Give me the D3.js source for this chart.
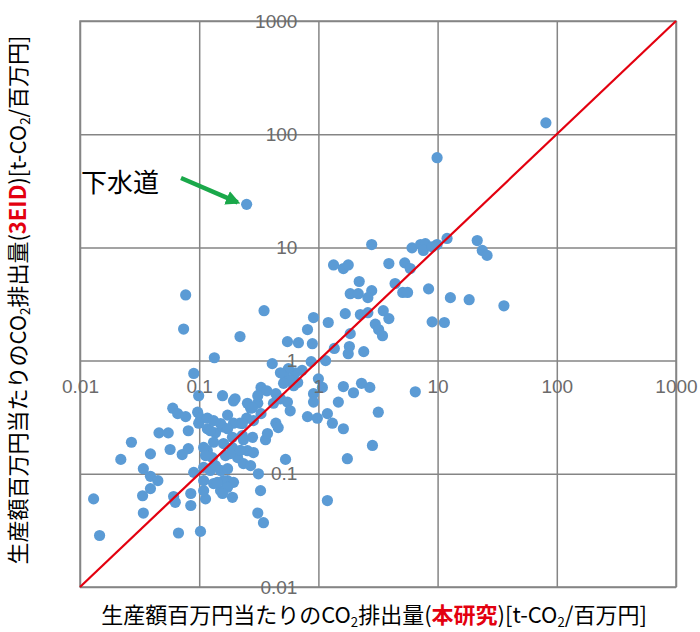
<!DOCTYPE html>
<html>
<head>
<meta charset="utf-8">
<script src="https://cdn.jsdelivr.net/npm/d3@7"></script>
<style>
  body { margin: 0; background: #fff; }
  .tick text { font-family: "Liberation Sans", Arial, sans-serif; fill: #6b6b6b; }
  .title { font-family: "Noto Sans CJK JP", sans-serif; fill: #000; }
</style>
</head>
<body>
<div id="chart"></div>
<script>
/***** Data : CO2 emission per million yen, this study (x) vs 3EID (y) *****/
var thisStudy = [
  81, 9.9, 0.25,
  2.8, 6.1, 7.2, 7.9, 7.6, 9.0, 9.9, 12, 21.5, 23.7, 26, 1.34, 1.62, 1.78, 3.9, 5.3, 5.9,
  2.2, 4.4, 5.1, 5.6, 8.4, 1.85, 2.16, 2.8, 2.6, 12.8, 18.4, 36, 0.077,
  0.074, 0.35, 0.91, 1.21, 1.68, 2.25, 2.6, 3.5, 3.9, 3.0, 3.2, 3.45, 9.0, 11.4, 0.81, 0.22,
  0.55, 0.68, 0.89, 1.85, 1.82, 1.78, 2.4, 1.36, 0.134, 0.41, 0.87, 1.15,
  0.09, 0.73, 0.64, 0.56, 0.53, 0.58, 0.51, 0.67, 0.48, 0.62, 1.0, 1.08, 1.62, 1.97, 2.3, 2.7,
  0.91, 0.91, 1.47, 6.5, 0.33, 0.37, 0.44, 0.48, 0.55, 0.58, 0.31, 0.27, 0.33, 0.25, 0.285,
  0.31, 0.2, 0.099, 0.157, 0.194, 0.06, 0.066, 0.077, 0.097, 0.103, 0.099, 0.117,
  0.046, 0.055, 0.081, 0.027, 0.039, 0.057, 0.072, 0.081, 0.022, 0.117, 0.117, 0.137, 0.157,
  0.173, 0.194, 0.22, 0.254, 0.28, 0.129, 0.132, 0.166, 0.19, 0.21, 0.235, 0.254, 0.28, 0.285,
  0.235, 0.27, 0.36, 0.374, 0.44, 0.46, 0.42, 0.81, 0.98, 1.19, 1.31, 1.62, 1.75, 2.84, 3.18,
  0.53, 0.314, 0.327, 0.034, 0.039, 0.045, 0.039, 0.0335, 0.013, 0.061, 0.063, 0.085, 0.085,
  0.113, 0.151, 0.19, 0.173, 0.194, 0.034, 0.31, 0.346, 0.0146, 0.067, 0.1025, 1.19,
  0.09, 0.109, 0.124, 0.137, 0.151, 0.173, 0.109, 0.109, 0.132, 0.16, 0.173, 0.157,
  0.124, 0.132, 0.151, 0.173, 0.23, 0.19, 0.23, 0.16, 0.183, 0.222, 0.109, 0.113, 0.142
];
var eid3 = [
  126, 62, 24,
  10.6, 9.9, 10.6, 10.8, 9.4, 10.1, 10.6, 12, 11.5, 9.4, 8.5, 7.0, 6.5, 7.0, 7.2, 7.3, 6.5,
  5.0, 4.8, 4.0, 4.0, 4.3, 3.9, 3.9, 4.15, 3.6, 3.6, 3.45, 3.05, 3.8,
  1.9, 2.76, 2.4, 2.17, 2.6, 2.55, 2.65, 2.76, 2.35, 2.1, 1.88, 1.66, 2.2, 2.17, 1.88, 1.63,
  1.47, 1.44, 1.41, 1.73, 1.33, 1.15, 1.2, 1.28, 1.06, 0.94, 0.98, 1.0,
  0.77, 0.82, 0.78, 0.85, 0.71, 0.67, 0.63, 0.64, 0.78, 0.60, 0.69, 0.58, 0.59, 0.52, 0.63, 0.58,
  0.51, 0.43, 0.43, 0.53, 0.58, 0.54, 0.51, 0.46, 0.43, 0.36, 0.42, 0.38, 0.34, 0.31, 0.295,
  0.49, 0.46, 0.49, 0.49, 0.44, 0.38, 0.34, 0.32, 0.35, 0.31, 0.28, 0.31,
  0.23, 0.23, 0.24, 0.19, 0.15, 0.164, 0.148, 0.167, 0.134, 0.25, 0.16, 0.23, 0.26,
  0.33, 0.28, 0.28, 0.42, 0.385, 0.139, 0.19, 0.145, 0.17, 0.139, 0.2, 0.16, 0.21, 0.154,
  0.123, 0.118, 0.2, 0.227, 0.28, 0.256, 0.42, 0.32, 0.31, 0.34, 0.28, 0.25, 0.136, 0.178, 0.35,
  0.134, 0.1, 0.071, 0.111, 0.095, 0.087, 0.074, 0.064, 0.06, 0.063, 0.056, 0.067, 0.0525,
  0.06, 0.071, 0.062, 0.087, 0.084, 0.045, 0.045, 0.037, 0.0285, 0.03, 0.031, 0.058,
  0.103, 0.114, 0.107, 0.118, 0.107, 0.111, 0.087, 0.071, 0.082, 0.087, 0.076, 0.067,
  0.24, 0.295, 0.278, 0.25, 0.278, 0.21, 0.218, 0.185, 0.151, 0.161, 0.171, 0.145, 0.084
];
var tickValues = [0.01, 0.1, 1, 10, 100, 1000];
var tickLabels = ["0.01", "0.1", "1", "10", "100", "1000"];
var annotation = { label: "下水道", x: 0.25, y: 24 };

var width = 700, height = 632;
var margin = { left: 80, right: 24, top: 21, bottom: 45 };

var svg = d3.select("#chart").append("svg")
    .attr("width", width)
    .attr("height", height);

var x = d3.scaleLog().domain([0.01, 1000]).range([margin.left, width - margin.right]);
var y = d3.scaleLog().domain([0.01, 1000]).range([height - margin.bottom, margin.top]);

/***** Grid lines *****/
svg.append("g")
    .attr("class", "grid")
    .attr("transform", "translate(0," + y(0.01) + ")")
    .call(d3.axisBottom(x).tickValues(tickValues).tickSize(-(y(0.01) - y(1000))).tickFormat(""));

svg.append("g")
    .attr("class", "grid")
    .attr("transform", "translate(" + x(0.01) + ",0)")
    .call(d3.axisLeft(y).tickValues(tickValues).tickSize(-(x(1000) - x(0.01))).tickFormat(""));

svg.selectAll(".grid .domain").remove();
svg.selectAll(".grid line")
    .attr("stroke", "#858585")
    .attr("stroke-width", 1.5);

svg.append("rect")
    .attr("x", x(0.01))
    .attr("y", y(1000))
    .attr("width", x(1000) - x(0.01))
    .attr("height", y(0.01) - y(1000))
    .attr("fill", "none")
    .attr("stroke", "#858585")
    .attr("stroke-width", 1.5);

/***** Points *****/
var points = thisStudy.map(function(d, i) { return [d, eid3[i]]; });

svg.append("g").selectAll("circle")
    .data(points)
    .enter().append("circle")
    .attr("cx", function(d) { return x(d[0]); })
    .attr("cy", function(d) { return y(d[1]); })
    .attr("r", 5.6)
    .attr("fill", "#5b9bd5");

/***** y = x line *****/
svg.append("line")
    .attr("x1", x(0.01)).attr("y1", y(0.01))
    .attr("x2", x(1000)).attr("y2", y(1000))
    .attr("stroke", "#e3000f")
    .attr("stroke-width", 2.2);

/***** Tick labels, crossing at (1,1) *****/
var xLabels = svg.append("g")
    .attr("transform", "translate(0," + y(1) + ")")
    .call(d3.axisBottom(x).tickValues(tickValues).tickSize(0).tickPadding(19)
        .tickFormat(function(d, i) { return tickLabels[i]; }));

var yLabels = svg.append("g")
    .attr("transform", "translate(" + x(1) + ",0)")
    .call(d3.axisLeft(y).tickValues(tickValues).tickSize(0).tickPadding(21)
        .tickFormat(function(d, i) { return tickLabels[i]; }));

[xLabels, yLabels].forEach(function(g) {
    g.select(".domain").remove();
    g.selectAll("text").attr("font-size", 19);
});

/***** Annotation *****/
svg.append("text")
    .attr("class", "title")
    .attr("x", 81)
    .attr("y", 192)
    .attr("font-size", 26)
    .text(annotation.label);

svg.append("defs").append("marker")
    .attr("id", "arrow")
    .attr("viewBox", "0 0 10 10")
    .attr("refX", 8).attr("refY", 5)
    .attr("markerWidth", 3.2).attr("markerHeight", 3.2)
    .attr("orient", "auto")
    .append("path")
    .attr("d", "M0,0 L10,5 L0,10 z")
    .attr("fill", "#1aa84a");

svg.append("line")
    .attr("x1", 181).attr("y1", 178)
    .attr("x2", x(annotation.x) - 9).attr("y2", y(annotation.y) - 2)
    .attr("stroke", "#1aa84a")
    .attr("stroke-width", 4.5)
    .attr("marker-end", "url(#arrow)");

/***** Axis titles *****/
function title(g, red) {
    g.append("tspan").text("生産額百万円当たりのCO");
    g.append("tspan").attr("font-size", "0.6em").attr("dy", "0.3em").text("2");
    g.append("tspan").attr("dy", "-0.18em").text("排出量(");
    g.append("tspan").attr("fill", "#e3000f").attr("font-weight", "bold").text(red);
    g.append("tspan").text(")[t-CO");
    g.append("tspan").attr("font-size", "0.6em").attr("dy", "0.3em").text("2");
    g.append("tspan").attr("dy", "-0.18em").text("/百万円]");
}

var xTitle = svg.append("text")
    .attr("class", "title")
    .attr("x", 374)
    .attr("y", 623)
    .attr("text-anchor", "middle")
    .attr("font-size", 22);
title(xTitle, "本研究");

var yTitle = svg.append("text")
    .attr("class", "title")
    .attr("transform", "translate(26,300) rotate(-90)")
    .attr("text-anchor", "middle")
    .attr("font-size", 22);
title(yTitle, "3EID");
</script>
</body>
</html>
